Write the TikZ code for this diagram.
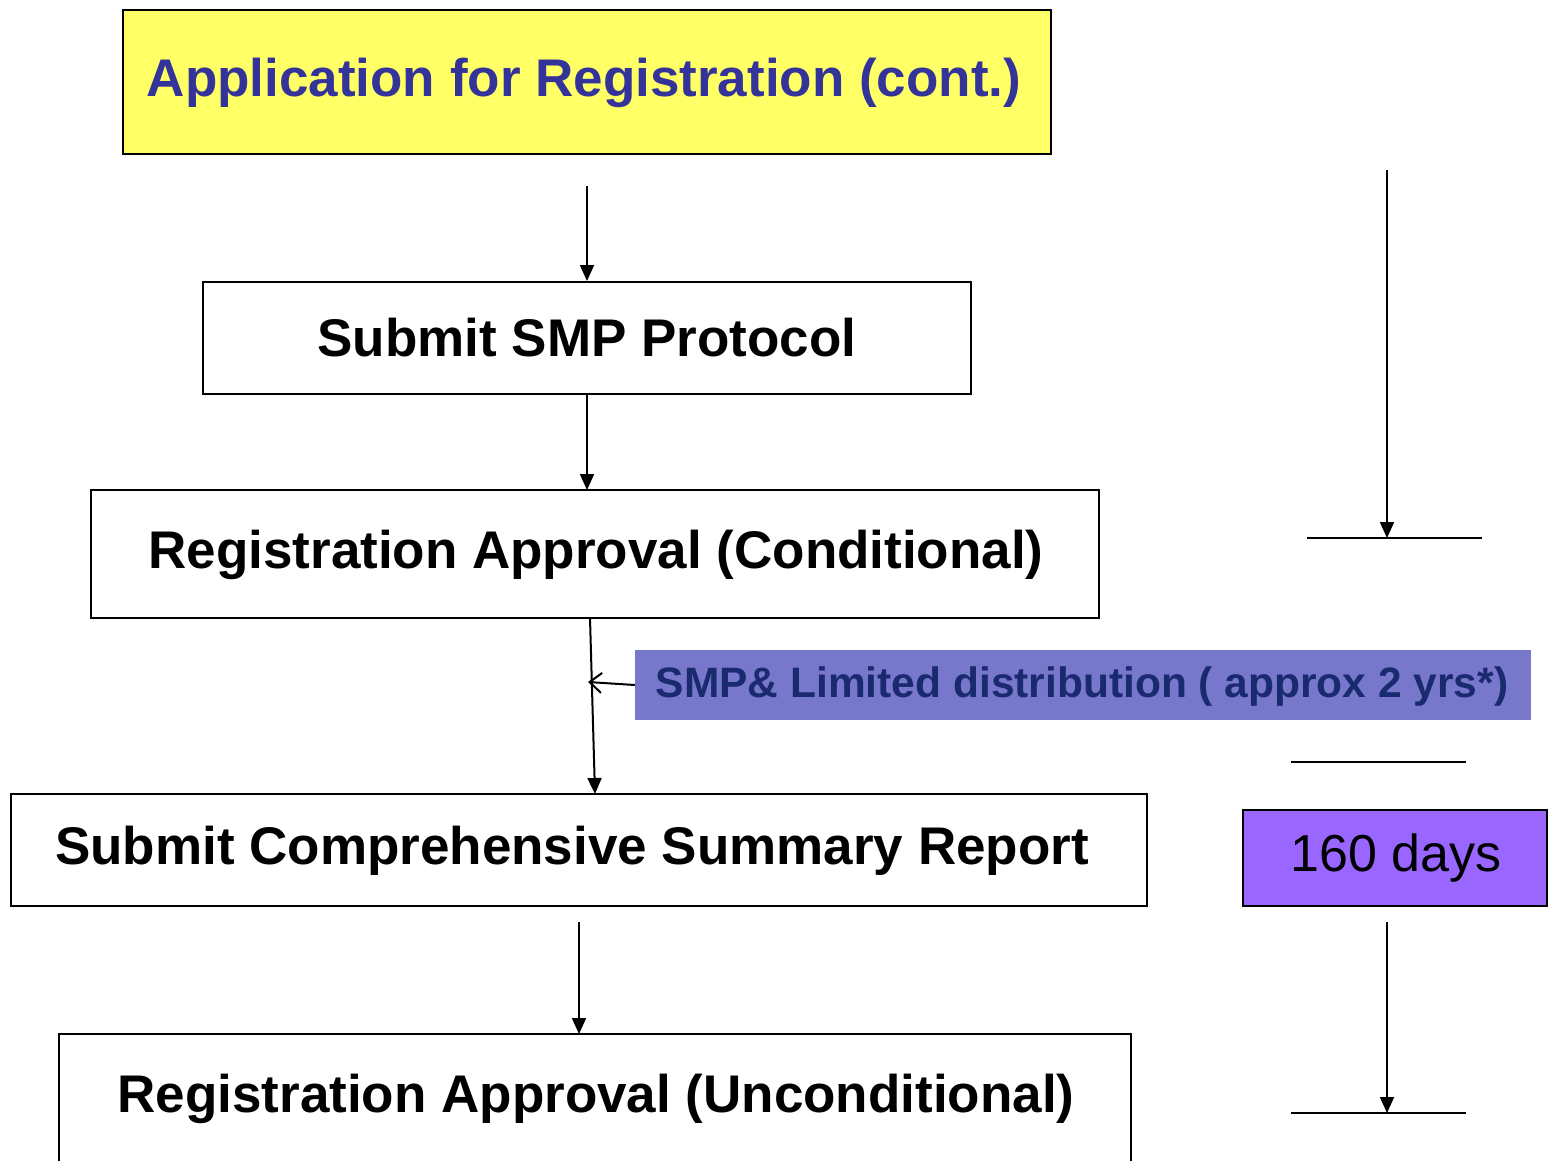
\documentclass[tikz,border=0pt]{standalone}
\usepackage{fontspec}
\setmainfont{Liberation Sans}
\usetikzlibrary{arrows.meta}
\definecolor{titleyellow}{HTML}{FFFF66}
\definecolor{titleblue}{HTML}{333399}
\definecolor{smpfill}{HTML}{7777CC}
\definecolor{smptext}{HTML}{1A2A6E}
\definecolor{dayfill}{HTML}{9966FF}
\tikzset{
  box/.style={draw=black, line width=2pt, inner sep=0pt},
  bigtxt/.style={font=\fontsize{53}{60}\selectfont\bfseries, inner sep=0pt},
  conn/.style={line width=2pt, -{Triangle[width=14pt,length=16pt]}},
  side/.style={line width=2pt},
}
\begin{document}
\begin{tikzpicture}[x=1pt,y=-1pt]
\useasboundingbox (0,0) rectangle (1551,1160);
\clip (0,0) rectangle (1551,1160);
% title
\node[box, fill=titleyellow, minimum width=928, minimum height=144] (title) at (587,82) {};
\node[bigtxt, text=titleblue] (titlet) at (584,83) {Application for Registration (cont.)};
% boxes
\node[box, minimum width=768, minimum height=112] (smp) at (587,338) {};
\node[bigtxt] (smpt) at (587,338) {Submit SMP Protocol};
\node[box, minimum width=1008, minimum height=128] (cond) at (595,554) {};
\node[bigtxt] (condt) at (596,555) {Registration Approval (Conditional)};
\node[box, minimum width=1136, minimum height=112] (csr) at (579,850) {};
\node[bigtxt] (csrt) at (572,851) {Submit Comprehensive Summary Report};
\draw[line width=2pt] (59,1170) -- (59,1034) -- (1131,1034) -- (1131,1170);
\coordinate (uncondtop) at (579,1034);
\node[bigtxt] (uncondt) at (596,1099) {Registration Approval (Unconditional)};
% blue label
\node[fill=smpfill, minimum width=896, minimum height=70, inner sep=0pt] (lim) at (1083,685) {};
\node[font=\fontsize{42.5}{48}\selectfont\bfseries, text=smptext, inner sep=0pt] (limt) at (1082,687) {SMP\& Limited distribution ( approx 2 yrs*)};
% 160 days
\node[box, fill=dayfill, minimum width=304, minimum height=96] (days) at (1395,858) {};
\node[font=\fontsize{52}{60}\selectfont, inner sep=0pt] (dayst) at (1396,858) {160 days};
% connectors
\coordinate (a1s) at (587,186);
\draw[conn] (a1s) -- (smp.north);
\draw[conn] (smp.south) -- (587,490);
\coordinate (c1) at (590,618);
\coordinate (c2) at (595,794);
\draw[conn] (c1) -- (c2);
\coordinate (meet) at (588,682);
\draw[line width=2pt, -{Straight Barb[width=20pt,length=12pt,line width=2pt]}] (lim.west) -- (meet);
\coordinate (a4s) at (579,922);
\draw[conn] (a4s) -- (uncondtop);
% right side timeline
\coordinate (r1s) at (1387,170);
\coordinate (r1e) at (1387,538);
\draw[conn] (r1s) -- (r1e);
\coordinate (h1a) at (1307,538);
\coordinate (h1b) at (1482,538);
\draw[side] (h1a) -- (h1b);
\coordinate (h2a) at (1291,762);
\coordinate (h2b) at (1466,762);
\draw[side] (h2a) -- (h2b);
\coordinate (r2s) at (1387,922);
\coordinate (r2e) at (1387,1113);
\draw[conn] (r2s) -- (r2e);
\coordinate (h3a) at (1291,1113);
\coordinate (h3b) at (1466,1113);
\draw[side] (h3a) -- (h3b);
\end{tikzpicture}
\end{document}
